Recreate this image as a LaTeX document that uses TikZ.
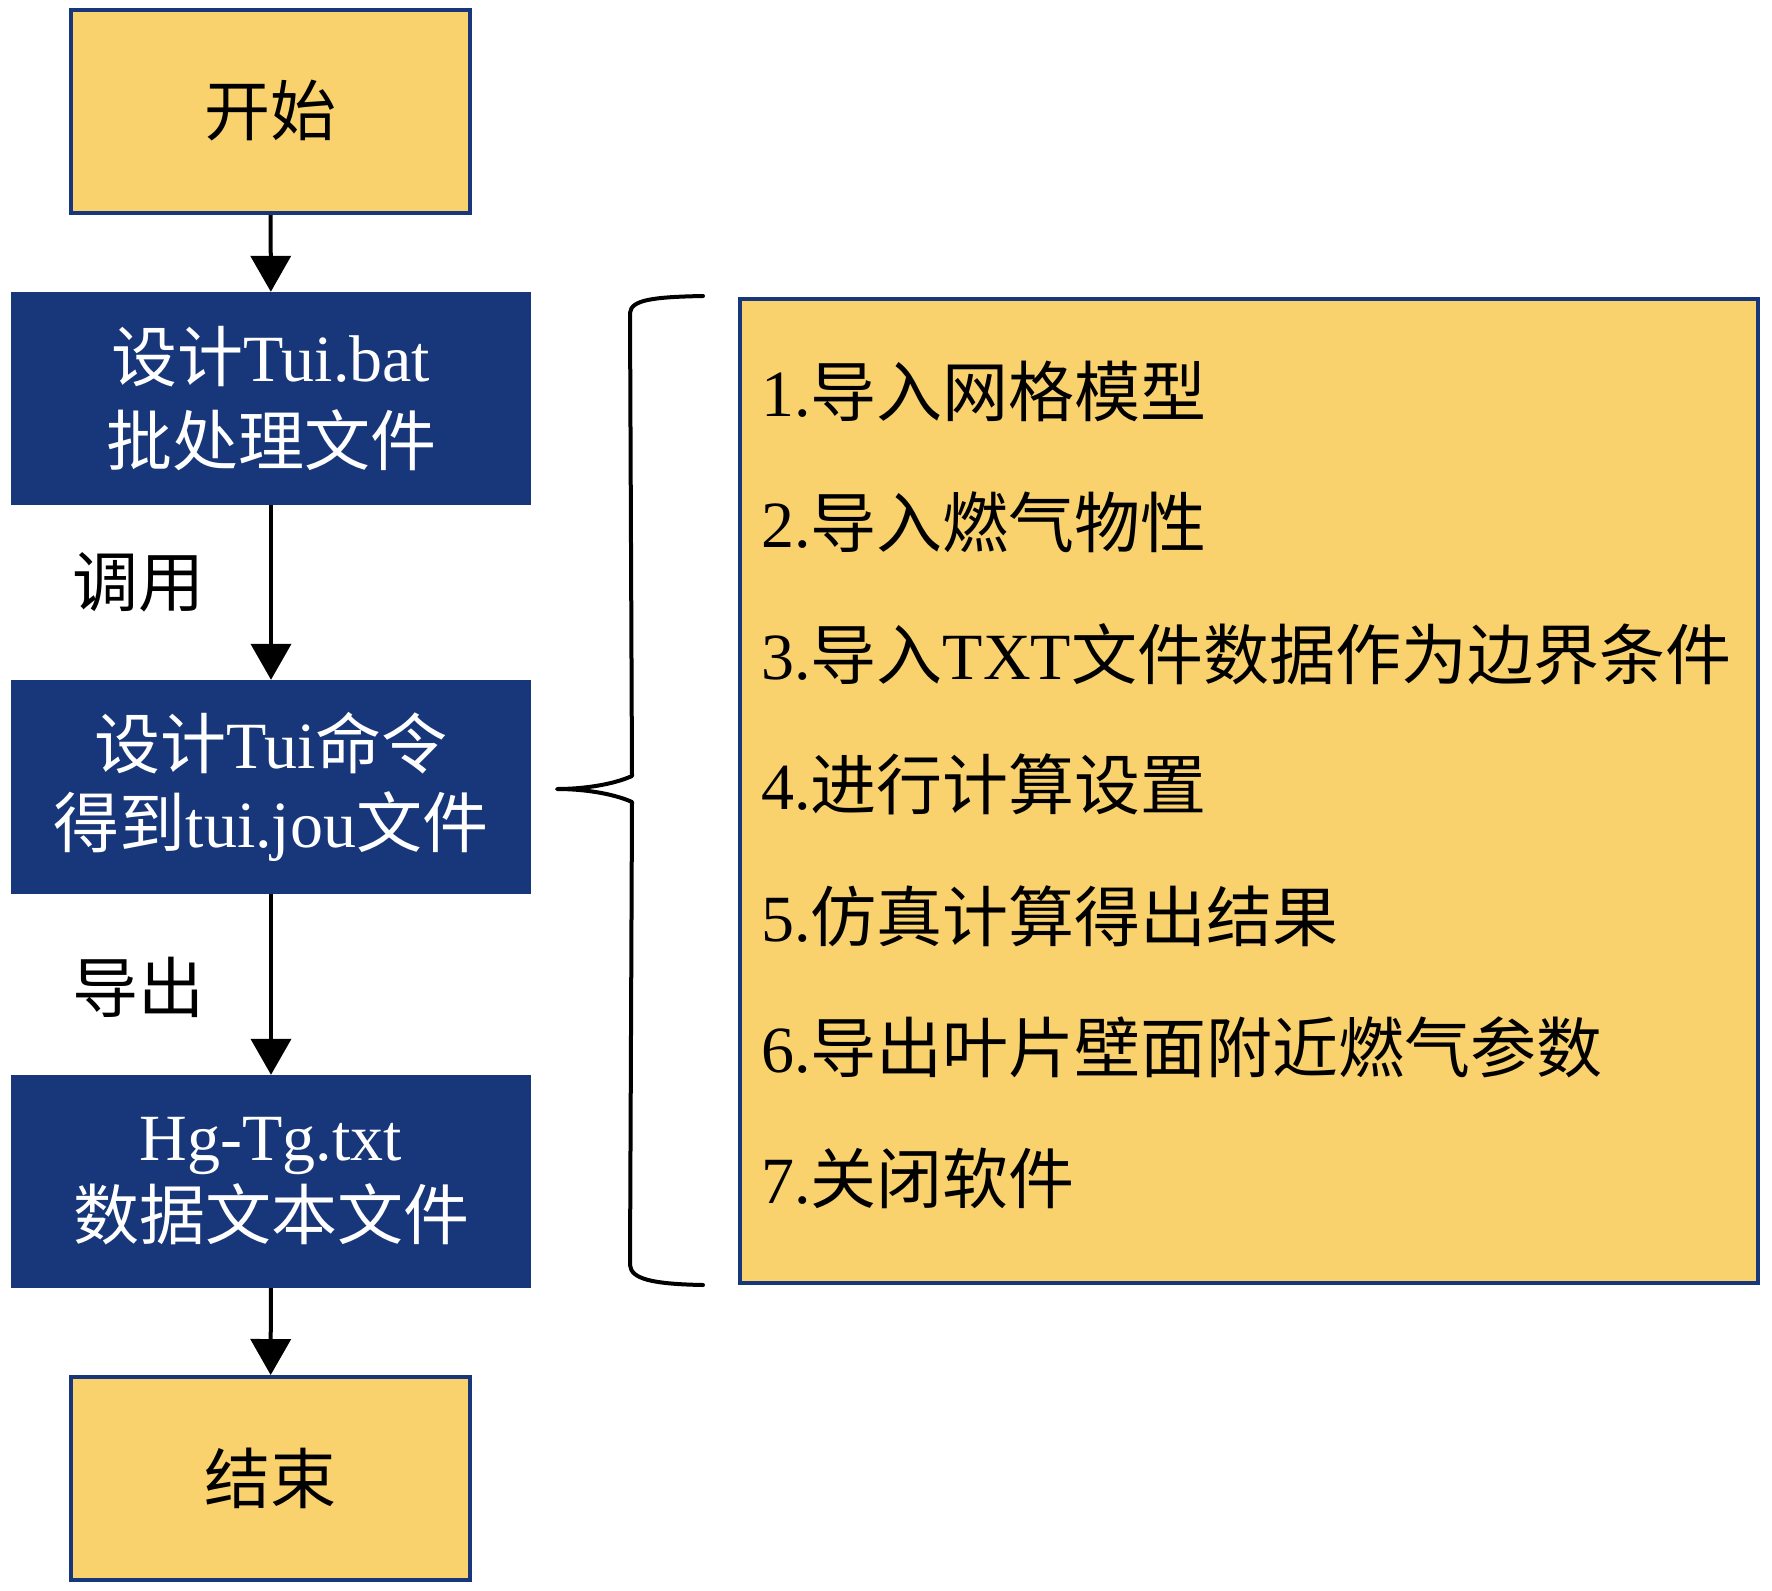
\documentclass[tikz,border=0pt]{standalone}
\usepackage{fontspec}
\setmainfont{Liberation Serif}
\newfontfamily\cjk{Noto Sans CJK SC}
\usetikzlibrary{arrows.meta}
\definecolor{boxyellow}{HTML}{F9D26E}
\definecolor{boxblue}{HTML}{17377A}
\begin{document}
\begin{tikzpicture}[x=1pt,y=-1pt,
  bigfont/.style={font=\fontsize{66}{79}\selectfont},
  yellowbox/.style={draw=boxblue, line width=4pt, fill=boxyellow, minimum width=399pt, minimum height=203pt, inner sep=0pt, bigfont},
  bluebox/.style={fill=boxblue, text=white, minimum width=520pt, minimum height=213pt, align=center, inner sep=0pt, bigfont},
  flow/.style={line width=4pt, -{Triangle[width=40pt,length=36pt]}},
  listitem/.style={anchor=base west, inner sep=0pt, bigfont},
  sidelabel/.style={inner sep=0pt, bigfont},
  bracestyle/.style={line width=4pt, line join=round, line cap=round}
]
\useasboundingbox (0,0) rectangle (1772,1590);

\node[yellowbox] (start) at (270.5,111.5) {\raisebox{8pt}{\cjk 开始}};
\node[bluebox] (bat) at (271,398.5) {\raisebox{5pt}{{\cjk 设计}Tui.bat}\\{\cjk 批处理文件}};
\node[bluebox, minimum height=214pt] (jou) at (271,787) {{\cjk 设计}Tui{\cjk 命令}\\{\cjk 得到}tui.jou{\cjk 文件}};
\node[bluebox] (txt) at (271,1181.5) {Hg-Tg.txt\\{\cjk 数据文本文件}};
\node[yellowbox] (end) at (270.5,1478.5) {\raisebox{-4pt}{\cjk 结束}};

\draw[flow] (start) -- (bat);
\draw[flow] (bat) -- (jou);
\draw[flow] (jou) -- (txt);
\draw[flow] (txt) -- (end);

\node[sidelabel] (call) at (138,582) {\cjk 调用};
\node[sidelabel] (export) at (138,987) {\cjk 导出};

\node[draw=boxblue, line width=4pt, fill=boxyellow, minimum width=1018pt, minimum height=984pt, inner sep=0pt] (list) at (1248.5,790.5) {};

\node[listitem] (s1) at (761,416) {1.{\cjk 导入网格模型}};
\node[listitem] (s2) at (761,547) {2.{\cjk 导入燃气物性}};
\node[listitem] (s3) at (761,679) {3.{\cjk 导入}TXT{\cjk 文件数据作为边界条件}};
\node[listitem] (s4) at (761,809) {4.{\cjk 进行计算设置}};
\node[listitem] (s5) at (761,941) {5.{\cjk 仿真计算得出结果}};
\node[listitem] (s6) at (761,1072) {6.{\cjk 导出叶片壁面附近燃气参数}};
\node[listitem] (s7) at (761,1203) {7.{\cjk 关闭软件}};

\draw[bracestyle] (703,296) .. controls (652,297) and (631,300) .. (630,313)
  -- (632,776) .. controls (612,785) and (582,789) .. (557,789)
  .. controls (582,789) and (612,793) .. (632,802)
  -- (630,1265) .. controls (631,1279) and (652,1284) .. (703,1285);
\end{tikzpicture}
\end{document}
